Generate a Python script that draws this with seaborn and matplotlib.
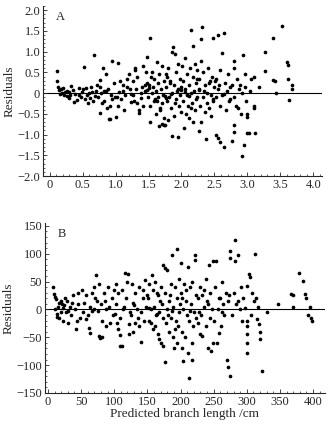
import matplotlib
matplotlib.use("Agg")
import matplotlib.pyplot as plt
import numpy as np
import pandas as pd
import seaborn as sns
from matplotlib.ticker import MultipleLocator

# panel A: predicted branch length (m) vs residuals
xa = [0.11, 0.11, 0.21, 0.14, 0.24, 0.16, 0.18, 0.13, 0.22, 0.19,
      0.44, 0.27, 0.38, 0.31, 0.47, 0.29, 0.35, 0.41, 0.49, 0.26, 0.33, 0.37, 0.30, 0.45,
      0.52, 0.67, 0.63, 0.51, 0.70, 0.57, 0.74, 0.54, 0.66, 0.60, 0.58, 0.72, 0.69, 0.55, 0.64, 0.61,
      0.76, 0.81, 0.86, 0.94, 0.97, 0.89, 0.78, 0.99, 0.83, 0.92, 0.76, 0.90, 0.92, 0.80, 0.85, 0.95, 0.77, 0.87, 0.93, 0.82,
      1.01, 1.03, 1.18, 1.11, 1.22, 1.06, 1.15, 1.09, 1.24, 1.04, 1.13, 1.07, 1.20, 1.02, 1.17, 1.12, 1.23,
      1.41, 1.29, 1.46, 1.33, 1.35, 1.26, 1.44, 1.31, 1.38, 1.49, 1.28, 1.42, 1.36, 1.47, 1.27, 1.40, 1.30, 1.33, 1.45, 1.39, 1.48,
      1.52, 1.47, 1.63, 1.71, 1.55, 1.66, 1.58, 1.74, 1.51, 1.69, 1.61, 1.56, 1.72, 1.64, 1.52, 1.59,
      1.70, 1.53, 1.67, 1.62, 1.73, 1.66, 1.70, 1.73, 1.57, 1.65, 1.60, 1.68, 1.54, 1.75, 1.63, 1.50,
      1.87, 1.86, 1.90, 1.95, 1.80, 1.92, 1.77, 1.98, 1.83, 1.89, 1.76, 1.93, 1.85, 1.97, 1.81, 1.91,
      1.78, 1.96, 1.84, 1.99, 1.88, 1.79, 1.75, 1.86, 1.95, 1.82, 1.94, 1.90, 1.78, 1.84, 1.99, 1.77,
      2.15, 2.17, 2.06, 2.21, 2.01, 2.13, 2.24, 2.09, 2.18, 2.03, 2.22, 2.11, 2.05, 2.19, 2.14, 2.08,
      2.23, 2.02, 2.16, 2.10, 2.20, 2.07, 2.12, 2.18, 2.04, 2.26, 2.14, 2.00, 2.22, 2.06, 2.11, 2.24,
      2.31, 2.30, 2.48, 2.29, 2.40, 2.33, 2.46, 2.27, 2.43, 2.36, 2.49, 2.26, 2.39, 2.44,
      2.32, 2.47, 2.28, 2.41, 2.35, 2.45, 2.30, 2.37, 2.38, 2.34, 2.42, 2.27, 2.48,
      2.55, 2.64, 2.62, 2.58, 2.70, 2.52, 2.66, 2.74, 2.56, 2.69, 2.61, 2.53, 2.72, 2.59,
      2.67, 2.52, 2.55, 2.59, 2.64, 2.73, 2.57, 2.51, 2.65,
      2.93, 2.79, 2.79, 2.96, 2.84, 2.77, 2.87, 2.92, 2.80, 2.98, 2.85, 2.90, 2.79, 2.79, 2.76, 2.94, 2.92, 2.82, 2.97, 2.88,
      3.10, 3.17, 3.00, 3.00, 3.10, 3.10, 2.99, 3.02, 3.11, 3.05, 3.04,
      3.27, 3.27, 3.39, 3.39, 3.42, 3.43,
      3.53, 3.60, 3.61, 3.61, 3.67, 3.68, 3.63]
ya = [0.54, 0.30, 0.12, 0.08, 0.03, -0.02, 0.10, 0.15, -0.05, 0.00,
      0.12, 0.05, -0.01, -0.05, -0.10, -0.13, 0.08, -0.16, 0.03, -0.08, 0.18, -0.21, 0.02, -0.04,
      0.62, 0.91, 0.15, 0.10, 0.05, -0.05, -0.10, -0.15, -0.20, 0.00, -0.25, 0.20, -0.08, 0.12, 0.03, -0.12,
      0.32, 0.60, 0.45, 0.77, 0.25, 0.10, 0.00, -0.10, -0.20, -0.30, -0.49, -0.63, -0.62, -0.25, 0.05, -0.15, 0.15, -0.35, -0.04, 0.06,
      -0.57, 0.72, 0.35, 0.20, 0.10, 0.02, -0.05, -0.15, -0.22, -0.30, -0.40, 0.28, 0.45, -0.10, 0.15, 0.04, -0.02,
      0.65, 0.60, 0.50, 0.40, -0.49, 0.30, 0.20, 0.10, 0.00, -0.10, -0.20, -0.30, -0.40, 0.25, -0.05, 0.15, 0.55, -0.25, 0.05, -0.12, 0.08,
      1.33, 0.88, 0.75, 0.65, 0.50, 0.45, 0.35, 0.30, 0.20, 0.10, 0.05, 0.00, -0.05, -0.10, -0.69, -0.20,
      -0.25, -0.30, -0.40, -0.50, -0.60, -0.79, -0.75, -0.78, 0.15, 0.25, -0.15, -0.35, 0.40, -0.08, -0.18, 0.12,
      1.11, 0.99, 0.95, 0.70, 0.60, 0.50, 0.45, 0.35, 0.30, 0.20, 0.15, 0.05, 0.00, -0.05, -0.10, -0.15,
      -0.20, -0.30, -0.35, -0.45, -0.55, -0.65, -0.78, -1.03, -1.06, 0.25, 0.10, -0.25, 0.40, -0.02, 0.08, -0.12,
      1.52, 1.14, 0.85, 0.70, 0.65, 0.60, 0.55, 0.45, 0.40, 0.30, 0.25, 0.20, 0.10, 0.05, 0.00, -0.05,
      -0.10, -0.20, -0.25, -0.30, -0.40, -0.50, -0.60, -0.70, -0.83, -0.91, -0.35, 0.15, -0.15, 0.02, -0.08, 0.33,
      1.60, 1.31, 1.32, 0.78, 0.60, 0.50, 0.40, 0.35, 0.30, 0.20, 0.15, 0.10, 0.00, -0.05,
      -0.10, -0.20, -0.30, -0.35, -0.45, -0.55, -0.70, -1.11, -0.25, 0.05, 0.25, 0.08, -0.15,
      1.40, 1.44, 0.96, 0.55, 0.45, 0.35, 0.25, 0.15, 0.10, 0.05, -0.05, -0.10, -0.20, -0.30,
      -0.40, -1.00, -1.08, -1.18, -1.29, -0.15, 0.20, 0.30, -0.02,
      0.92, 0.78, 0.60, 0.45, 0.35, 0.20, 0.11, 0.00, -0.10, -0.20, -0.35, -0.50, -0.77, -0.93, -1.15, -1.24, -1.52, -0.30, 0.15, 0.20,
      0.40, 0.14, -0.50, -0.58, -0.30, -0.35, -0.96, -0.97, -0.96, 0.35, 0.05,
      1.00, 0.54, 1.34, 0.32, 0.30, 0.00,
      1.62, 0.76, 0.68, 0.35, 0.19, 0.11, -0.16]

# panel B: predicted branch length (cm) vs residuals
xb = [8, 9, 10, 12, 21, 15, 11, 19, 14, 17, 22, 20, 23, 13, 24, 16,
      38, 29, 46, 33, 41, 27, 35, 44, 31, 45, 43, 26, 49, 37, 30,
      73, 52, 67, 58, 71, 55, 63, 69, 53, 60, 62, 64, 70, 57, 74, 66,
      77, 90, 84, 96, 80, 92, 87, 98, 82, 94, 77, 79, 81, 88, 99, 86, 76,
      116, 121, 102, 111, 106, 118, 103, 113, 124, 108, 104, 106, 109, 109, 111, 122, 123, 120, 115, 101,
      146, 127, 138, 131, 143, 129, 148, 134, 140, 126, 145, 132, 137, 128, 141, 149, 136, 144, 130,
      157, 174, 162, 153, 170, 158, 166, 151, 172, 160, 155, 168, 163, 173, 152, 161, 166, 167, 171, 173,
      165, 156, 169, 159, 153, 164,
      187, 194, 176, 179, 198, 185, 191, 177, 195, 183, 189, 180, 197, 186, 193, 178, 196, 182, 188, 176,
      190, 184, 181, 199, 192, 195, 187,
      201, 222, 222, 211, 218, 205, 214, 201, 223, 208, 216, 204, 220, 210, 213, 219, 202, 207, 202, 204,
      212, 217, 213, 209, 203, 224, 218, 215,
      243, 249, 238, 229, 245, 233, 227, 241, 235, 247, 231, 244, 226, 239, 230, 249, 242, 246, 236, 228, 240, 232,
      254, 275, 275, 262, 252, 268, 258, 271, 264, 256, 266, 251, 261, 258, 255, 270, 272, 274, 273, 263, 260,
      282, 282, 286, 291, 280, 295, 284, 289, 278, 293, 287, 298,
      303, 305, 301, 312, 308, 314, 311, 300, 300, 300, 300, 300, 319, 320, 320, 323, 306, 317, 316,
      347, 367, 370, 330, 370,
      379, 385, 388, 389, 392, 397, 399, 395]
yb = [41, 28, 22, 18, 10, 5, 0, -5, -13, -16, -20, 15, 3, -8, 8, 12,
      25, 15, 10, 5, 0, -5, -10, -20, -25, 30, -35, 20, -15, 12, -2,
      61, 35, 30, 25, 20, 12, 5, 0, -5, -10, -34, -43, 40, -18, 15, -3,
      45, 40, 30, 20, 10, 5, 0, -10, -20, -25, -47, -52, -50, -30, 35, 15, -3,
      66, 63, 45, 35, 30, 20, 10, 0, -5, -15, -24, -35, -46, -65, -66, -27, -45, 50, 5, -8,
      52, 45, 40, 30, 20, 12, 5, 0, -5, -10, -20, -25, -30, -40, -59, 25, -15, 35, 8,
      61, 79, 50, 45, 40, 35, 25, 20, 10, 5, 0, -5, -10, -15, -20, -30, -44, -54, -60, -66,
      30, -25, 15, -35, 3, -8,
      97, 109, 74, 70, 55, 45, 40, 30, 20, 15, 5, 0, -5, -15, -20, -25, -30, -40, -50, -95,
      -70, 25, -10, 10, -35, -60, -3,
      83, 97, 88, 76, 50, 45, 40, 30, 25, 15, 10, 0, -5, -10, -20, -30, -40, -50, -70, -92,
      -78, -90, -124, 35, 20, -15, -60, -3,
      80, 86, 55, 40, 30, 25, 20, 10, 5, 0, -10, -15, -25, -30, -45, -60, -70, -75, 35, -5, 15, -48,
      86, 105, 92, 50, 40, 30, 20, 15, 10, 0, -10, -20, -30, -42, -60, -91, -104, -120, 25, -5, 20,
      124, 86, 98, 40, 30, 20, 10, 0, -10, -20, 15, 3,
      64, 58, 42, 100, 30, 20, 15, -21, -30, -45, -60, -78, -27, -40, -54, -110, -10, 5, -18,
      10, 28, 4, -5, 26,
      66, 51, 28, 20, -10, -15, -20, 5]

ticks_a_x = [0, 0.5, 1.0, 1.5, 2.0, 2.5, 3.0, 3.5, 4.0]
labels_a_x = ["0", "0.5", "1.0", "1.5", "2.0", "2.5", "3.0", "3.5", "4.0"]
ticks_a_y = [-2.0, -1.5, -1.0, -0.5, 0, 0.5, 1.0, 1.5, 2.0]
labels_a_y = ["\u22122.0", "\u22121.5", "\u22121.0", "\u22120.5", "0", "0.5", "1.0", "1.5", "2.0"]
ticks_b_x = [0, 50, 100, 150, 200, 250, 300, 350, 400]
ticks_b_y = [-150, -100, -50, 0, 50, 100, 150]
labels_b_y = ["\u2212150", "\u2212100", "\u221250", "0", "50", "100", "150"]

sns.set_style("ticks")
plt.rcParams['font.family'] = ['Liberation Serif', 'DejaVu Serif']
plt.rcParams['axes.linewidth'] = 0.8

fig = plt.figure(figsize=(3.33, 4.33), dpi=100)
axA = fig.add_axes([0.129, 0.5935, 0.838, 0.3926])
axB = fig.add_axes([0.135, 0.0924, 0.841, 0.3926])

dfa = pd.DataFrame({'x': xa, 'y': ya})
dfb = pd.DataFrame({'x': xb, 'y': yb})

sns.scatterplot(data=dfa, x='x', y='y', ax=axA, color='black', s=7, linewidth=0, marker='o')
sns.scatterplot(data=dfb, x='x', y='y', ax=axB, color='black', s=7, linewidth=0, marker='o')

for ax in (axA, axB):
    ax.axhline(0, color='black', lw=0.8, zorder=0)
    sns.despine(ax=ax)
    ax.tick_params(direction='in', length=3, width=0.6, labelsize=9, pad=2)
    ax.tick_params(which='minor', direction='in', length=1.5, width=0.5)
    ax.set_ylabel('Residuals', fontsize=9.5, labelpad=1)
    ax.set_xlabel('')

axA.set_xlim(-0.1, 4.13)
axA.set_ylim(-2.0, 2.1)
axA.set_xticks(ticks_a_x, labels_a_x)
axA.set_yticks(ticks_a_y, labels_a_y)
axA.xaxis.set_minor_locator(MultipleLocator(0.1))
axA.yaxis.set_minor_locator(MultipleLocator(0.1))
axA.text(0.045, 0.92, 'A', transform=axA.transAxes, fontsize=9)

axB.set_xlim(-4.5, 418)
axB.set_ylim(-150, 155)
axB.set_xticks(ticks_b_x, [str(t) for t in ticks_b_x])
axB.set_yticks(ticks_b_y, labels_b_y)
axB.xaxis.set_minor_locator(MultipleLocator(10))
axB.yaxis.set_minor_locator(MultipleLocator(10))
axB.text(0.045, 0.92, 'B', transform=axB.transAxes, fontsize=9)
axB.set_xlabel('Predicted branch length /cm', fontsize=9.5, labelpad=0)

fig.savefig('out.png', dpi=100)
